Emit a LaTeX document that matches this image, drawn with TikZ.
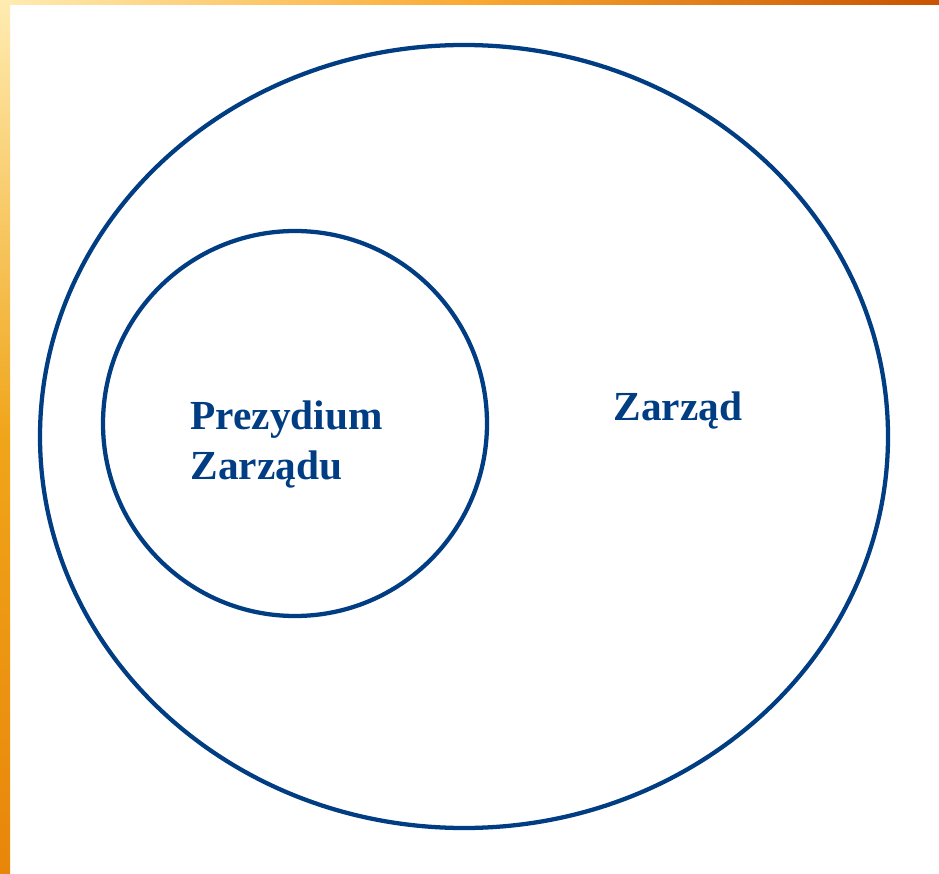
\documentclass[tikz,border=0pt]{standalone}
\usepackage{fontspec}
\setmainfont{Liberation Serif}
\definecolor{navyline}{RGB}{0,61,130}
\definecolor{barlight}{RGB}{255,236,178}
\definecolor{barmid}{RGB}{250,170,50}
\definecolor{bardark}{RGB}{200,82,0}
\definecolor{sidemid}{RGB}{240,165,25}
\definecolor{sideorange}{RGB}{232,134,10}
\tikzset{every picture/.style={line width=0.75pt}}
\tikzset{
	ring/.style={draw=navyline, line width=3.2pt},
	label text/.style={text=navyline, inner sep=0pt, font={\bfseries\fontsize{31}{37.5}\selectfont}}}

\begin{document}
\begin{tikzpicture}[x=0.75pt,y=0.75pt,yscale=-1,xscale=1]
	\useasboundingbox (0,0) rectangle (939,874);
	\fill[white] (0,0) rectangle (939,874);

	%Shape: Rectangle [id:top bar]
	\shade[left color=barlight, right color=bardark, middle color=barmid, draw opacity=0] (0,0) rectangle (939,5);
	%Shape: Rectangle [id:side bar]
	\shade[top color=barlight, bottom color=sideorange, middle color=sidemid, draw opacity=0] (0,0) rectangle (10,874);

	%Shape: Circle [id:zarzad]
	\draw [ring] (464,436.5) ellipse (424 and 391.5);
	%Shape: Circle [id:prezydium]
	\draw [ring] (295,423.5) ellipse (192 and 192.5);

	% Text Node
	\draw (190,400) node [label text, anchor=north west, align=left] (prezydium) {Prezydium\\Zarządu};
	% Text Node
	\draw (613,420) node [label text, anchor=base west] (zarzad) {Zarząd};

\end{tikzpicture}
\end{document}
